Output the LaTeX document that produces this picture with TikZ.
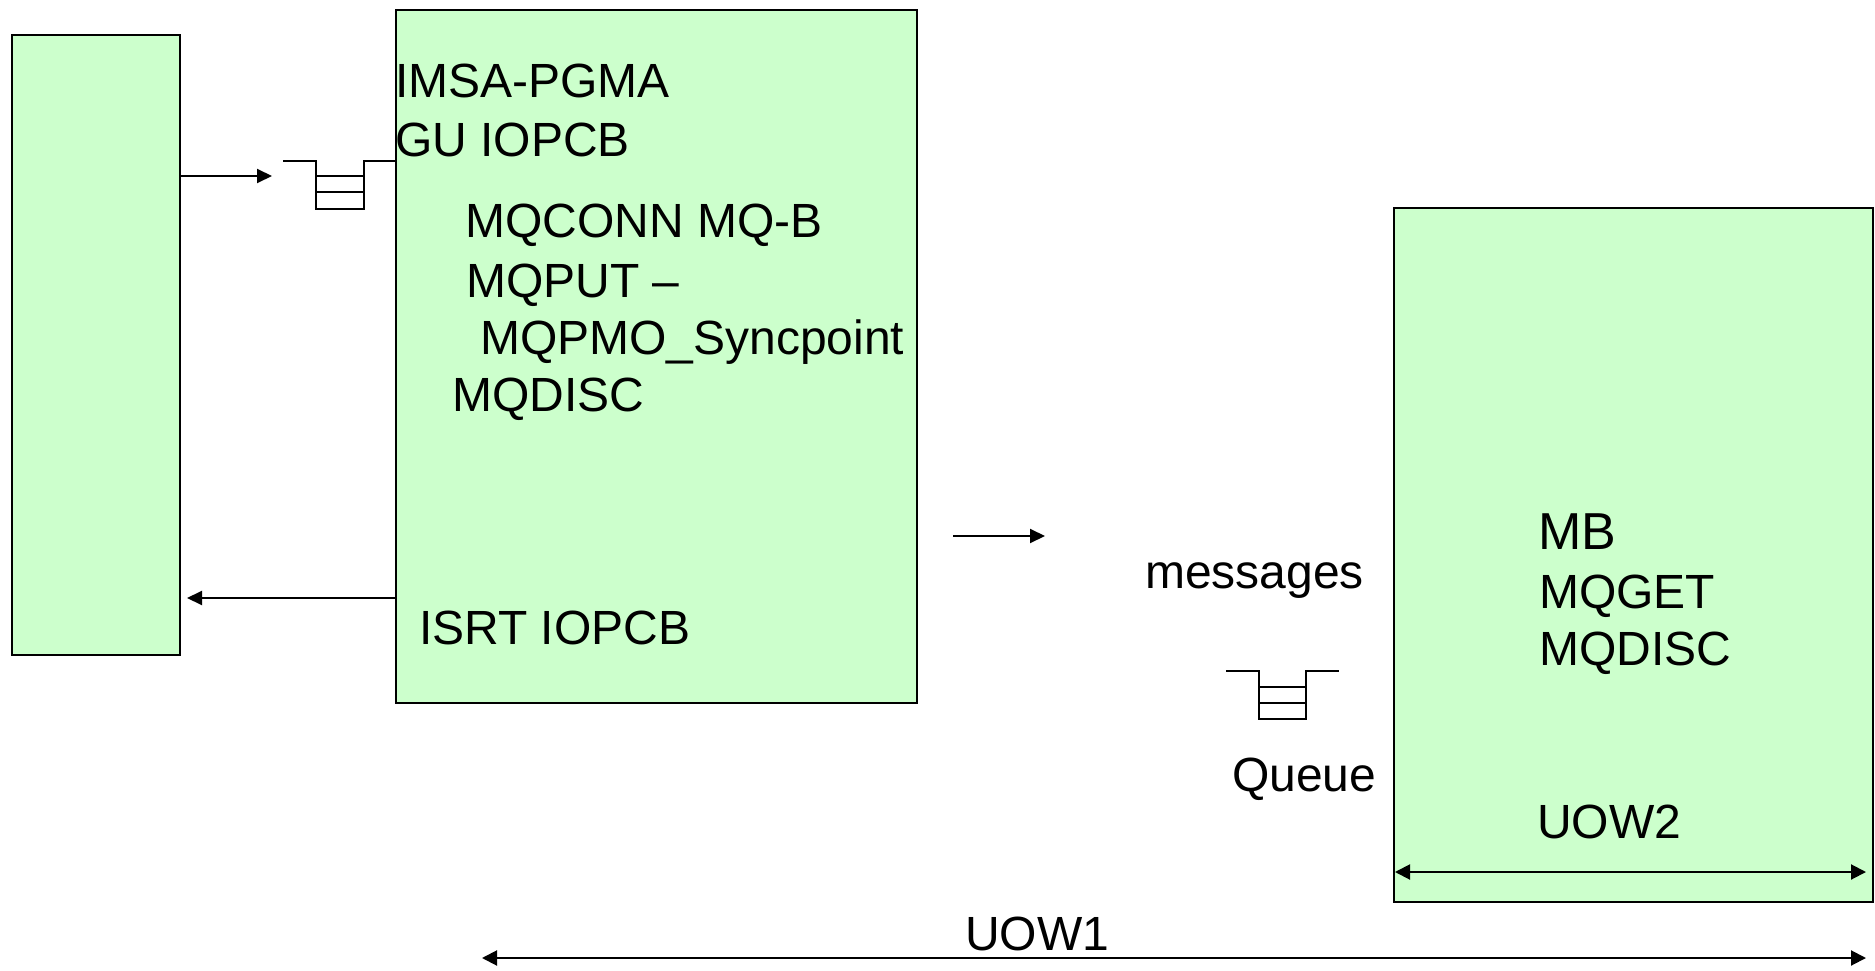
\documentclass[tikz,border=0pt]{standalone}
\usepackage{fontspec}
\setmainfont{Liberation Sans}
\usetikzlibrary{arrows.meta}

\definecolor{boxgreen}{RGB}{204,255,204}

\tikzset{
  panel/.style={draw=black, line width=1.8pt, fill=boxgreen, inner sep=0pt, outer sep=0pt, anchor=north west},
  lbl/.style={anchor=base west, inner sep=0pt, font=\fontsize{48}{57}\selectfont},
  biglbl/.style={anchor=base west, inner sep=0pt, font=\fontsize{52}{62}\selectfont},
  flow/.style={line width=2pt, -{Triangle[length=15pt,width=14pt]}},
  span/.style={line width=2pt, {Triangle[length=15pt,width=15pt]}-{Triangle[length=15pt,width=15pt]}},
  queueline/.style={line width=1.8pt, line join=miter},
}

\begin{document}
\begin{tikzpicture}[x=1pt, y=-1pt]
  \useasboundingbox (0,0) rectangle (1875,971);

  % the three program regions
  \node[panel, minimum width=168pt, minimum height=620pt] (term) at (12,35) {};
  \node[panel, minimum width=521pt, minimum height=693pt] (pgma) at (396,10) {};
  \node[panel, minimum width=479pt, minimum height=694pt] (mb) at (1394,208) {};

  % input queue in front of IMSA-PGMA
  \draw[queueline] (283,161) -- (316,161) -- (316,209) -- (364,209) -- (364,161) -- (pgma.west |- 0,161);
  \draw[queueline] (316,176) -- (364,176);
  \draw[queueline] (316,192) -- (364,192);
  \coordinate (qin) at (272,176);

  % MQ queue between the two units of work
  \draw[queueline] (1226,671) -- (1259,671) -- (1259,719) -- (1306,719) -- (1306,671) -- (1339,671);
  \draw[queueline] (1259,687) -- (1306,687);
  \draw[queueline] (1259,703) -- (1306,703);

  % texts in IMSA-PGMA
  \node[lbl] (t1) at (395,98) {IMSA-PGMA};
  \node[lbl] (t2) at (395,157) {GU IOPCB};
  \node[lbl] (t3) at (465,237) {MQCONN MQ-B};
  \node[lbl] (t4) at (466,297) {MQPUT –};
  \node[lbl] (t5) at (480,354) {MQPMO\_Syncpoint};
  \node[lbl] (t6) at (452,411) {MQDISC};
  \node[lbl] (t7) at (419,644) {ISRT IOPCB};

  % texts near the queue
  \node[lbl] (msgs) at (1145,588) {messages};
  \node[lbl] (qname) at (1232,791) {Queue};

  % texts in MB
  \node[biglbl] (m1) at (1538,549) {MB};
  \node[lbl] (m2) at (1539,608) {MQGET};
  \node[lbl] (m3) at (1539,665) {MQDISC};
  \node[lbl] (uow2) at (1537,838) {UOW2};
  \node[lbl] (uow1) at (965,950) {UOW1};

  % message flow
  \draw[flow] (term.east |- qin) -- (qin);
  \coordinate (ret) at (187,598);
  \draw[flow] (pgma.west |- ret) -- (ret);
  \coordinate (sendfrom) at (953,536);
  \coordinate (sendto) at (1045,536);
  \draw[flow] (sendfrom) -- (sendto);

  % units of work
  \coordinate (u2a) at (1395,872);
  \coordinate (u2b) at (1866,872);
  \draw[span] (u2a) -- (u2b);
  \coordinate (u1a) at (482,958);
  \coordinate (u1b) at (1866,958);
  \draw[span] (u1a) -- (u1b);
\end{tikzpicture}
\end{document}
